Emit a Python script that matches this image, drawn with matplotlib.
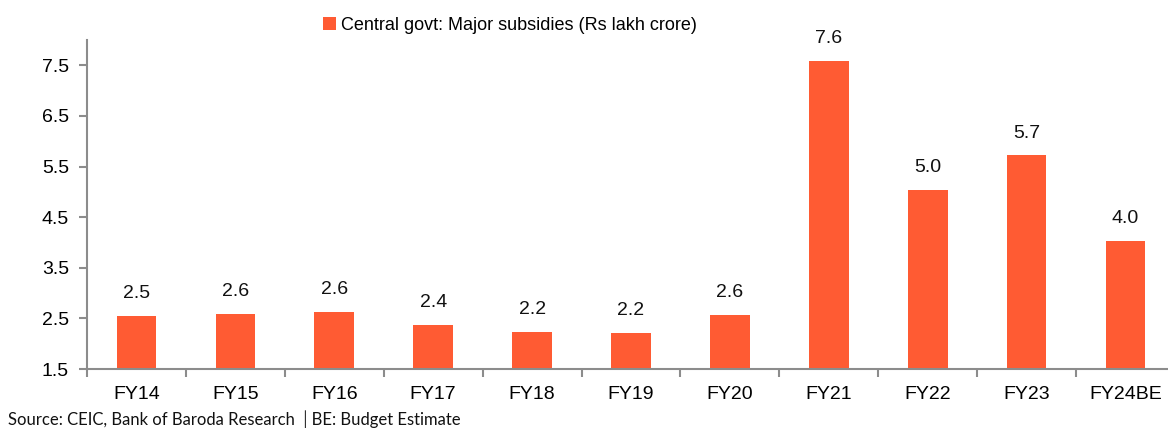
import matplotlib
matplotlib.use("Agg")
import matplotlib.pyplot as plt
import numpy as np
from matplotlib.ticker import FixedLocator, NullFormatter

categories = ["FY14", "FY15", "FY16", "FY17", "FY18", "FY19", "FY20", "FY21", "FY22", "FY23", "FY24BE"]
values = [2.54, 2.58, 2.63, 2.37, 2.23, 2.22, 2.56, 7.58, 5.04, 5.72, 4.03]
labels = ["2.5", "2.6", "2.6", "2.4", "2.2", "2.2", "2.6", "7.6", "5.0", "5.7", "4.0"]
yticks = [1.5, 2.5, 3.5, 4.5, 5.5, 6.5, 7.5]
series_name = "Central govt: Major subsidies (Rs lakh crore)"
source = "Source: CEIC, Bank of Baroda Research \u2502BE: Budget Estimate"

plt.rcParams['font.family'] = ['Liberation Sans', 'DejaVu Sans']
fs = 14
color = "#FF5B33"
gray = "#8C8C8C"

fig = plt.figure(figsize=(11.68, 4.28), dpi=100)
ax = fig.add_axes([87/1168, 1-369/428, (1175-87)/1168, (369-40)/428])

x = np.arange(len(categories))
bars = ax.bar(x, values, width=0.40, color=color, label=series_name, zorder=2)
for xi, v, lab in zip(x, values, labels):
    ax.annotate(lab, (xi, v), xytext=(0, 10), textcoords="offset points",
                ha="center", va="bottom", fontsize=fs, color="#111111")

ax.set_xlim(-0.5, len(categories) - 0.5)
ax.set_ylim(1.5, 8.0)
ax.set_yticks(yticks)
ax.set_yticklabels([f"{t:.1f}" for t in yticks], fontsize=fs)

ax.xaxis.set_major_locator(FixedLocator(np.arange(-0.5, len(categories) + 0.5, 1.0)))
ax.xaxis.set_major_formatter(NullFormatter())
ax.xaxis.set_minor_locator(FixedLocator(x))
ax.set_xticklabels(categories, minor=True, fontsize=fs)
ax.tick_params(axis="x", which="minor", length=0, pad=12)
ax.tick_params(axis="x", which="major", length=6, width=1.5, color=gray, direction="out")
ax.tick_params(axis="y", length=6, width=1.5, color=gray, direction="out", pad=7)

for s in ["top", "right"]:
    ax.spines[s].set_visible(False)
for s in ["left", "bottom"]:
    ax.spines[s].set_color(gray)
    ax.spines[s].set_linewidth(1.5)

fig.legend(handles=[bars], labels=[series_name], loc="center",
           bbox_to_anchor=(510/1168, 1-25/428), frameon=False, fontsize=13,
           handlelength=0.7, handleheight=0.7, handletextpad=0.3)

fig.text(8/1168, 1-420/428, source, fontsize=12, family=["Lato", "DejaVu Sans"],
         ha="left", va="center", color="#111111")

fig.savefig("out.png", dpi=100)
